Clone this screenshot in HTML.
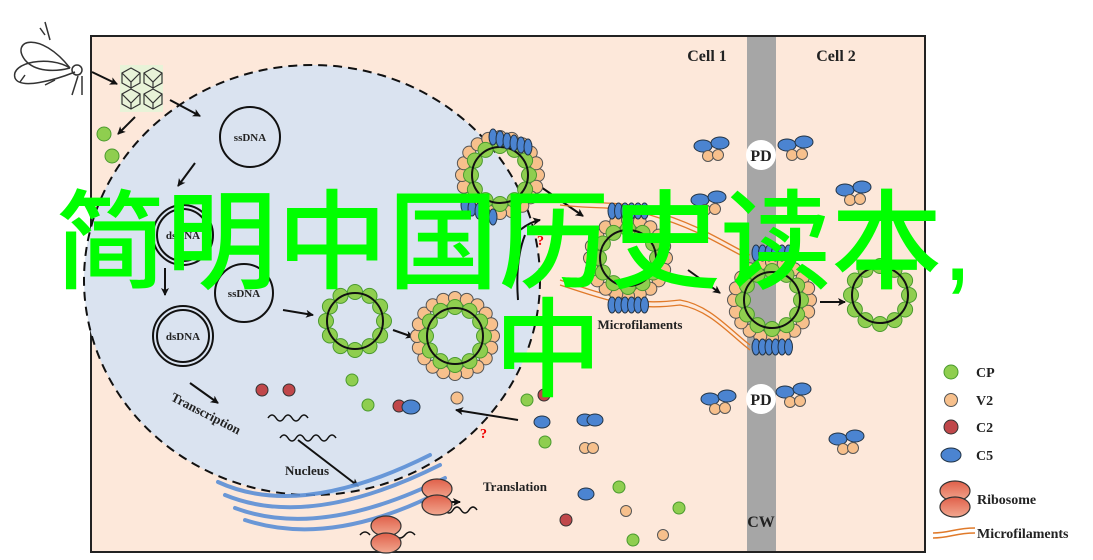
<!DOCTYPE html>
<html><head><meta charset="utf-8">
<style>
html,body{margin:0;padding:0;background:#fff;width:1093px;height:560px;overflow:hidden}
svg{display:block}
.t{font-family:"Liberation Serif",serif;font-weight:bold;fill:#222}
.big{font-family:"Liberation Sans","Noto Sans CJK SC",sans-serif;fill:#00ff00;font-size:108px;font-weight:500}
</style></head><body>
<svg id="s" width="1093" height="560" viewBox="0 0 1093 560" xmlns="http://www.w3.org/2000/svg">
<defs>
<marker id="ar" markerWidth="8" markerHeight="8" refX="7" refY="4" orient="auto" markerUnits="userSpaceOnUse"><path d="M0,0 L8,4 L0,8 L2,4z" fill="#111"/></marker>
<linearGradient id="rib" x1="0" y1="0" x2="0" y2="1"><stop offset="0" stop-color="#e0604a"/><stop offset="1" stop-color="#f2a890"/></linearGradient>
</defs>
<rect x="91" y="36" width="834" height="516" fill="#fde8da" stroke="#222" stroke-width="2"/>
<ellipse cx="312" cy="280" rx="228" ry="215" fill="#dae3f0" stroke="#111" stroke-width="2" stroke-dasharray="9,6"/>
<rect x="747" y="37" width="29" height="514" fill="#a6a6a6"/>
<circle cx="761" cy="155" r="15" fill="#fff"/><text class="t" x="761" y="161" font-size="16" text-anchor="middle">PD</text>
<circle cx="761" cy="399" r="15" fill="#fff"/><text class="t" x="761" y="405" font-size="16" text-anchor="middle">PD</text>
<text class="t" x="761" y="527" font-size="16" text-anchor="middle">CW</text>
<text class="t" x="707" y="61" font-size="16" text-anchor="middle">Cell 1</text>
<text class="t" x="836" y="61" font-size="16" text-anchor="middle">Cell 2</text>
<!-- insect -->
<g fill="none" stroke="#333" stroke-width="1.5">
<path d="M70,68 C40,30 10,40 25,60 C35,72 55,72 70,68"/>
<path d="M70,68 C50,55 10,62 15,78 C20,90 55,80 75,72"/>
<path d="M45,22 L50,40 M40,28 L45,35 M25,75 L20,82 M55,80 L45,85 M78,76 L72,95 M82,76 L82,95"/>
<circle cx="77" cy="70" r="5"/>
</g>
<rect x="120" y="65" width="43" height="47" fill="#e8f3d8"/>
<g fill="none" stroke="#333" stroke-width="1.2">
<polygon points="131,68 140,73 140,83 131,88 122,83 122,73"/><polygon points="153,68 162,73 162,83 153,88 144,83 144,73"/>
<polygon points="131,89 140,94 140,104 131,109 122,104 122,94"/><polygon points="153,89 162,94 162,104 153,109 144,104 144,94"/>
<path d="M122,73 L131,82 L140,73 M131,82 L131,88 M144,73 L153,82 L162,73 M153,82 L153,88 M122,94 L131,103 L140,94 M131,103 L131,109 M144,94 L153,103 L162,94 M153,103 L153,109"/>
</g>
<g stroke="#111" stroke-width="2" fill="none" marker-end="url(#ar)">
<line x1="92" y1="72" x2="117" y2="84"/>
<line x1="135" y1="117" x2="118" y2="134"/>
<line x1="170" y1="100" x2="200" y2="116"/>
<line x1="195" y1="163" x2="178" y2="186"/>
<line x1="165" y1="268" x2="165" y2="295"/>
<line x1="283" y1="310" x2="313" y2="315"/>
<line x1="393" y1="330" x2="413" y2="337"/>
<line x1="190" y1="383" x2="218" y2="403"/>
<line x1="298" y1="440" x2="358" y2="486"/>
<line x1="518" y1="420" x2="456" y2="410"/>
<line x1="420" y1="502" x2="460" y2="502"/>
<line x1="820" y1="302" x2="845" y2="302"/>
<line x1="538" y1="185" x2="583" y2="216"/>
<line x1="688" y1="270" x2="720" y2="293"/>
<path d="M520,230 Q530,222 540,220"/>
</g>
<path d="M525,235 Q515,260 518,300" stroke="#111" stroke-width="2" fill="none"/>
<text x="537" y="245" font-size="14" fill="#e00" font-family="Liberation Serif" font-weight="bold">?</text>
<text x="480" y="438" font-size="14" fill="#e00" font-family="Liberation Serif" font-weight="bold">?</text>
<!-- DNA circles -->
<g fill="none" stroke="#111" stroke-width="2">
<circle cx="250" cy="137" r="30"/>
<circle cx="183" cy="235" r="30"/><circle cx="183" cy="235" r="26"/>
<circle cx="244" cy="293" r="29"/>
<circle cx="183" cy="336" r="30"/><circle cx="183" cy="336" r="26"/>
</g>
<text class="t" x="250" y="141" font-size="11" text-anchor="middle">ssDNA</text>
<text class="t" x="183" y="239" font-size="11" text-anchor="middle">dsDNA</text>
<text class="t" x="244" y="297" font-size="11" text-anchor="middle">ssDNA</text>
<text class="t" x="183" y="340" font-size="11" text-anchor="middle">dsDNA</text>
<text class="t" x="0" y="0" font-size="13" transform="translate(170,400) rotate(27)">Transcription</text>
<text class="t" x="307" y="475" font-size="13" text-anchor="middle">Nucleus</text>
<text class="t" x="515" y="491" font-size="13" text-anchor="middle">Translation</text>
<text class="t" x="640" y="329" font-size="13" text-anchor="middle">Microfilaments</text>
<!-- microfilaments -->
<g fill="none" stroke="#e07a2a" stroke-width="1.3">
<path d="M560,200 C600,205 620,200 650,210 C700,225 720,240 750,255"/>
<path d="M560,205 C600,210 620,205 650,215 C700,230 720,245 750,260"/>
<path d="M560,280 C620,300 640,305 680,300 C710,305 730,330 750,345"/>
<path d="M560,285 C620,305 640,310 680,305 C710,310 730,335 750,350"/>
</g>
<!-- mRNA -->
<g fill="none" stroke="#111" stroke-width="1.5">
<path d="M268,418 q4,-6 8,0 q4,6 8,0 q4,-6 8,0 q4,6 8,0 q4,-6 8,0"/>
<path d="M280,438 q4,-6 8,0 q4,6 8,0 q4,-6 8,0 q4,6 8,0 q4,-6 8,0 q4,6 8,0 q4,-6 8,0"/>
<path d="M445,510 q4,6 8,0 q4,-6 8,0 q4,6 8,0 q4,-6 8,0"/>
<path d="M360,535 q5,-6 10,0 M395,535 q5,6 10,0 q5,-6 10,0"/>
</g>
<!-- ER -->
<g fill="none" stroke="#5b8fd6" stroke-width="4" stroke-linecap="round" opacity="0.9">
<path d="M218,482 Q300,520 430,455"/>
<path d="M225,495 Q310,530 440,465"/>
<path d="M235,508 Q320,540 445,478"/>
<path d="M245,520 Q330,548 440,492"/>
</g>
<!-- ribosomes -->
<g stroke="#333" stroke-width="1.2" fill="url(#rib)">
<ellipse cx="437" cy="489" rx="15" ry="10"/><ellipse cx="437" cy="505" rx="15" ry="10"/>
<ellipse cx="386" cy="526" rx="15" ry="10"/><ellipse cx="386" cy="543" rx="15" ry="10"/>
<ellipse cx="955" cy="491" rx="15" ry="10"/><ellipse cx="955" cy="507" rx="15" ry="10"/>
</g>
<g id="dyn"></g>
<!-- legend -->
<circle cx="951" cy="372" r="7" fill="#8fce4f" stroke="#4a9a2e"/>
<circle cx="951" cy="400" r="6.5" fill="#f7c08c" stroke="#555"/>
<circle cx="951" cy="427" r="7" fill="#c0474a" stroke="#333"/>
<ellipse cx="951" cy="455" rx="10" ry="7" fill="#4b84d1" stroke="#234"/>
<text class="t" x="976" y="377" font-size="14">CP</text>
<text class="t" x="976" y="405" font-size="14">V2</text>
<text class="t" x="976" y="432" font-size="14">C2</text>
<text class="t" x="976" y="460" font-size="14">C5</text>
<text class="t" x="977" y="504" font-size="14">Ribosome</text>
<path d="M933,533 C950,533 955,528 975,528 M933,538 C950,538 955,533 975,533" stroke="#e07a2a" stroke-width="1.5" fill="none"/>
<text class="t" x="977" y="538" font-size="14">Microfilaments</text>
<text class="big" x="55" y="280" textLength="918" lengthAdjust="spacingAndGlyphs">简明中国历史读本,</text>
<text class="big" x="494" y="388">中</text>
</svg>
<script>
var g=document.getElementById('dyn'),NS='http://www.w3.org/2000/svg';
function el(n,a){var e=document.createElementNS(NS,n);for(var k in a)e.setAttribute(k,a[k]);g.appendChild(e);return e;}
var G={fill:'#8fce4f',stroke:'#4a9a2e','stroke-width':1},O={fill:'#f7c08c',stroke:'#555','stroke-width':1},R={fill:'#c0474a',stroke:'#333','stroke-width':1},B={fill:'#4b84d1',stroke:'#234','stroke-width':1};
function c(x,y,r,s){var a=Object.assign({cx:x,cy:y,r:r},s);el('circle',a);}
function e(x,y,rx,ry,s){var a=Object.assign({cx:x,cy:y,rx:rx,ry:ry},s);el('ellipse',a);}
function ring(x,y,orange,blueTop,blueBot){
 if(orange){for(var i=0;i<20;i++){var t=i/20*2*Math.PI;c(x+38*Math.cos(t),y+38*Math.sin(t),6.5,O);}}
 for(var i=0;i<12;i++){var t=i/12*2*Math.PI;c(x+29*Math.cos(t),y+29*Math.sin(t),7.5,G);}
 el('circle',{cx:x,cy:y,r:28,fill:'none',stroke:'#111','stroke-width':2});
 if(blueTop)for(var i=0;i<6;i++)e(x-16+i*6.5,y-47,4,8,B);
 if(blueBot)for(var i=0;i<6;i++)e(x-16+i*6.5,y+47,4,8,B);
}
ring(500,175,true,false,false);
for(var i=0;i<6;i++)e(493+i*7,137+i*2,4,8,B);
for(var i=0;i<5;i++)e(465+i*7,205+i*3,4,8,B);
ring(355,321,false);ring(455,336,true);
ring(628,258,true,true,true);ring(772,300,true,true,true);ring(880,295,false);
c(104,134,7,G);c(112,156,7,G);
c(262,390,6,R);c(289,390,6,R);c(352,380,6,G);c(368,405,6,G);c(399,406,6,R);e(411,407,9,7,B);c(457,398,6,O);
c(527,400,6,G);c(544,395,6,R);e(542,422,8,6,B);e(585,420,8,6,B);e(595,420,8,6,B);c(545,442,6,G);c(585,448,5.5,O);c(593,448,5.5,O);
e(586,494,8,6,B);c(619,487,6,G);c(626,511,5.5,O);c(566,520,6,R);c(633,540,6,G);c(679,508,6,G);c(663,535,5.5,O);
function cl(x,y){e(x,y,9,6,B);e(x+17,y-3,9,6,B);c(x+5,y+10,5.5,O);c(x+15,y+9,5.5,O);}
cl(703,146);cl(787,145);cl(845,190);cl(710,399);cl(785,392);cl(838,439);cl(700,200);
</script>
</body></html>
